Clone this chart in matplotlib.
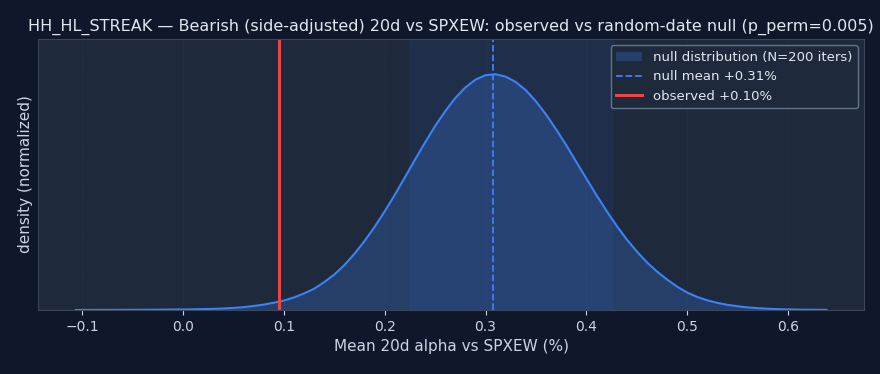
import matplotlib
matplotlib.use("Agg")
import matplotlib.pyplot as plt

# null distribution density (normalized)
null_x = [-0.106, -0.08, -0.06, -0.04, -0.02, 0.0, 0.01, 0.02, 0.03, 0.04,
          0.05, 0.06, 0.07, 0.08, 0.09, 0.10, 0.11, 0.12, 0.13, 0.14,
          0.15, 0.16, 0.17, 0.18, 0.19, 0.20, 0.21, 0.22, 0.23, 0.24,
          0.25, 0.26, 0.27, 0.28, 0.29, 0.30, 0.31, 0.32, 0.33, 0.34,
          0.35, 0.36, 0.37, 0.38, 0.39, 0.40, 0.41, 0.42, 0.43, 0.44,
          0.45, 0.46, 0.47, 0.48, 0.49, 0.50, 0.51, 0.52, 0.53, 0.54,
          0.55, 0.56, 0.57, 0.58, 0.59, 0.60, 0.61, 0.62, 0.63, 0.638]
null_density = [0.0003, 0.0005, 0.0008, 0.0012, 0.0018, 0.0025, 0.003, 0.004, 0.005, 0.0065,
                0.009, 0.012, 0.017, 0.023, 0.031, 0.040, 0.053, 0.070, 0.090, 0.118,
                0.150, 0.190, 0.238, 0.292, 0.352, 0.418, 0.488, 0.562, 0.637, 0.710,
                0.780, 0.843, 0.899, 0.944, 0.977, 0.996, 1.000, 0.990, 0.967, 0.932,
                0.885, 0.829, 0.766, 0.699, 0.628, 0.557, 0.487, 0.420, 0.357, 0.299,
                0.248, 0.202, 0.163, 0.129, 0.099, 0.074, 0.055, 0.041, 0.030, 0.022,
                0.016, 0.011, 0.008, 0.0055, 0.0038, 0.0026, 0.0018, 0.0013, 0.001, 0.0008]
band_lo, band_hi = 0.224, 0.426
null_mean = 0.307
observed = 0.095
n_iters = 200
p_perm = 0.005

BG = "#0f172a"
PANEL = "#1e293b"
BLUE = "#3b82f6"
RED = "#ef4444"
TEXT = "#e2e8f0"
MUTED = "#cbd5e1"

fig = plt.figure(figsize=(8.8, 3.74), dpi=100, facecolor=BG)
ax = fig.add_axes([0.0435, 0.171, 0.9385, 0.725])
ax.set_facecolor(PANEL)

ax.axvspan(band_lo, band_hi, color=BLUE, alpha=0.08, lw=0)
ax.fill_between(null_x, 0, null_density, color=BLUE, alpha=0.25, lw=0,
                label=f"null distribution (N={n_iters} iters)")
ax.plot(null_x, null_density, color=BLUE, lw=1.5)
ax.axvline(null_mean, color=BLUE, ls="--", lw=1.3,
           label=f"null mean {null_mean:+.2f}%")
ax.axvline(observed, color=RED, lw=2.2, label=f"observed {observed:+.2f}%")

ax.set_ylim(0, max(null_density) * 1.15)
ax.set_yticks([])
ax.grid(axis="x", color="#334155", ls="--", lw=0.6, alpha=0.3)
ax.set_axisbelow(True)

for s in ax.spines.values():
    s.set_color("#3b4658")
ax.tick_params(colors=MUTED, labelsize=10)
ax.set_xlabel("Mean 20d alpha vs SPXEW (%)", color=MUTED, fontsize=11)
ax.set_ylabel("density (normalized)", color=MUTED, fontsize=11)
ax.set_title(f"HH_HL_STREAK — Bearish (side-adjusted) 20d vs SPXEW: observed vs "
             f"random-date null (p_perm={p_perm:.3f})", color=TEXT, fontsize=11.5)

leg = ax.legend(loc="upper right", fontsize=9.5, facecolor=PANEL, edgecolor="#64748b",
                framealpha=1.0)
for t in leg.get_texts():
    t.set_color(TEXT)

fig.savefig("out.png", facecolor=BG)
